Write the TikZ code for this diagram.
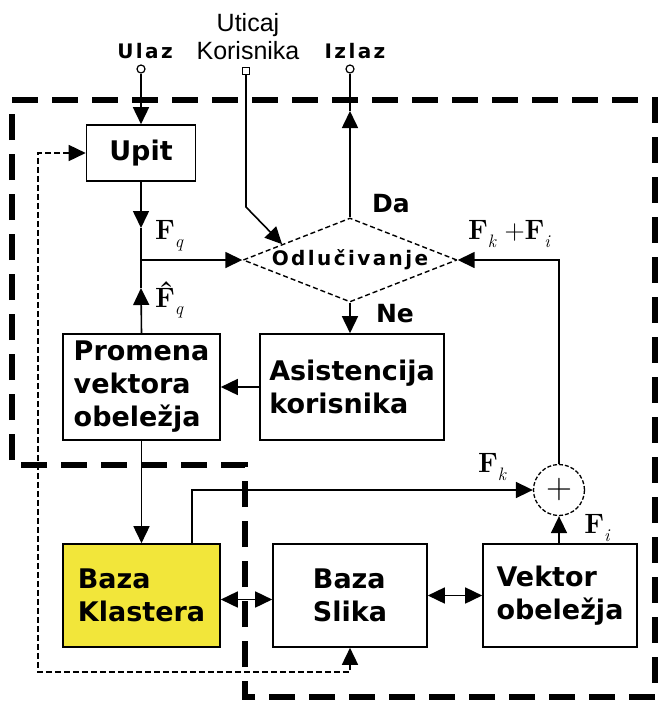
\documentclass[tikz,border=0pt]{standalone}
\usepackage{fontspec}
\newfontfamily\blockfont{DejaVu Sans}
\newfontfamily\spacedfont{DejaVu Sans}[LetterSpace=12]
\newfontfamily\plainfont{Liberation Sans}
\newfontfamily\vecfont{Latin Modern Roman}
\usetikzlibrary{shapes.geometric,arrows.meta,calc}
\definecolor{klasteryellow}{RGB}{242,230,58}
\newcommand{\fsub}[1]{\raisebox{-0.28em}{\fontsize{18}{18}\selectfont\itshape #1}}
\newcommand{\fvec}[1]{\textbf{F}\fsub{#1}}
\newcommand{\fhat}[1]{\textbf{\rlap{\raisebox{0.2em}{\kern0.12em ˆ}}F}\fsub{#1}}
\tikzset{
  tip/.style={-{Triangle[length=17pt,width=16pt]}},
  twotip/.style={{Triangle[length=17pt,width=16pt]}-{Triangle[length=17pt,width=16pt]}},
  block/.style={draw,line width=1.6pt,inner sep=0pt,align=left,
    font=\blockfont\bfseries\fontsize{27}{33}\selectfont},
  decision/.style={diamond,draw,dash pattern=on 5pt off 3pt,line width=1.4pt,
    inner sep=0pt,shape aspect=2.55,minimum width=214pt,minimum height=84pt,
    font=\spacedfont\bfseries\fontsize{20}{24}\selectfont},
  port/.style={circle,draw,line width=1.2pt,fill=white,inner sep=0pt,minimum size=8pt},
  portsq/.style={rectangle,draw,line width=1.2pt,fill=white,inner sep=0pt,minimum size=7pt},
  sum/.style={circle,draw,dash pattern=on 4pt off 2pt,line width=1.3pt,inner sep=0pt,
    minimum size=51pt,font=\vecfont\fontsize{36}{40}\selectfont},
  flow/.style={line width=1.6pt},
  border/.style={line width=6pt,dash pattern=on 26pt off 14pt},
  feedback/.style={line width=1.6pt,dash pattern=on 6pt off 3pt},
  tag/.style={font=\spacedfont\bfseries\fontsize{20}{24}\selectfont},
  answer/.style={font=\blockfont\bfseries\fontsize{25}{30}\selectfont},
  vec/.style={font=\vecfont\fontsize{28}{30}\selectfont},
}
\begin{document}
\begin{tikzpicture}[x=1pt,y=-1pt]
  \useasboundingbox (0,0) rectangle (661,702);

  % region boundary
  \draw[border] (12,100) -- (655,100) -- (655,697) -- (245,697) -- (245,465) -- (12,465) -- cycle;

  % blocks
  \path (141,153) node[block,minimum width=109pt,minimum height=56pt] (U) {Upit};
  \path (350,260) node[decision] (D) {Odlučivanje};
  \path (141.5,387) node[block,minimum width=157pt,minimum height=106pt] (P) {Promena\\vektora\\obeležja};
  \path (352,387) node[block,minimum width=184pt,minimum height=106pt] (A) {Asistencija\\korisnika};
  \path (141.5,595.5) node[block,fill=klasteryellow,minimum width=157pt,minimum height=103pt] (BK) {Baza\\Klastera};
  \path (350,595.5) node[block,minimum width=154pt,minimum height=103pt] (BS) {Baza\\Slika};
  \path (560,595.5) node[block,minimum width=154pt,minimum height=103pt] (V) {Vektor\\obeležja};
  \path (559,490) node[sum] (S) {+};

  % terminals
  \path (141,69) node[port] (ulaz) {};
  \path (246,71) node[portsq] (uticaj) {};
  \path (350,69) node[port] (izlaz) {};
  \path (145,51) node[tag] (ulazlbl) {Ulaz};
  \path (355,51) node[tag] (izlazlbl) {Izlaz};
  \path (248,37) node[align=center,font=\plainfont\fontsize{25}{28}\selectfont] (uticajlbl) {Uticaj\\Korisnika};

  % helper points
  \coordinate (join) at (U.south |- D.west);
  \coordinate (fqtip) at (141,228);
  \coordinate (fqhtip) at (141,288);
  \coordinate (izlaztip) at (350,111);
  \coordinate (uticajbend) at (246,207);
  \coordinate (fbcorner) at (38,672);

  % connectors
  \draw[flow,tip] (ulaz) -- (U.north);
  \draw[flow,tip] (U.south) -- (fqtip);
  \draw[flow] (fqtip) -- (join);
  \draw[flow,tip] (P.north) -- (fqhtip);
  \draw[flow] (fqhtip) -- (join);
  \draw[flow,tip] (join) -- (D.west);
  \draw[flow,tip] (uticaj) -- (uticajbend) -- ($(D.west)!0.37!(D.north)$);
  \draw[flow,tip] (D.north) -- (izlaztip);
  \draw[flow] (izlaztip) -- (izlaz);
  \draw[flow,tip] (D.south) -- (D.south |- A.north);
  \draw[flow,tip] (A.west) -- (P.east);
  \draw[flow,tip] (P.south) -- (BK.north);
  \draw[flow,tip] ($(BK.north west)!0.82!(BK.north east)$) |- (S.west);
  \draw[flow,tip] (S.south |- V.north) -- (S.south);
  \draw[flow,tip] (S.north) |- (D.east);
  \draw[flow,twotip] ([yshift=-4pt]BK.east) -- ([yshift=-4pt]BS.west);
  \draw[flow,twotip] (BS.east) -- (V.west);
  \draw[feedback,twotip] (U.west) -| (fbcorner) -| (BS.south);

  % labels
  \path (169,236) node[vec] (fq) {\fvec{q}};
  \path (169,300) node[vec] (fqh) {\fhat{q}};
  \path (391,204) node[answer] (da) {Da};
  \path (395,314) node[answer] (ne) {Ne};
  \path (509,234) node[vec] (fkfi) {\fvec{k} +\fvec{i}};
  \path (492,467) node[vec] (fk) {\fvec{k}};
  \path (597,528) node[vec] (fi) {\fvec{i}};
\end{tikzpicture}
\end{document}
